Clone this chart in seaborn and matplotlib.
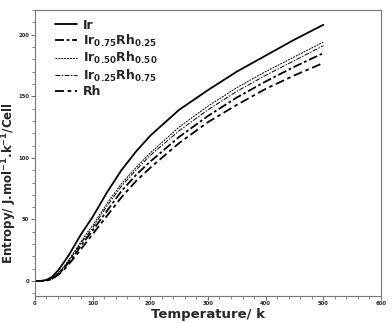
import matplotlib
matplotlib.use("Agg")
import matplotlib.pyplot as plt
import seaborn as sns
import pandas as pd
from matplotlib.ticker import MultipleLocator

temperature = [0, 10, 20, 30, 40, 50, 60, 70, 80, 90, 100, 125, 150, 175, 200, 250, 300, 350, 400, 450, 500]
s_ir = [0, 0.1, 0.9, 3.5, 8.5, 15, 22, 30, 38, 45, 52, 72, 90, 105, 118, 139, 155, 170, 183, 196, 208]
s_ir75 = [0, 0.1, 0.4, 2, 5.5, 10, 16, 22, 29, 35, 41, 57, 73, 86, 97, 117, 134, 149, 162, 174, 185]
s_ir50 = [0, 0.1, 0.6, 2.5, 6.5, 11.5, 18, 25, 32, 39, 45, 63, 79, 92, 104, 125, 142, 157, 170, 182, 194]
s_ir25 = [0, 0.1, 0.5, 2.2, 6, 11, 17, 24, 31, 37, 43, 61, 77, 90, 102, 122, 139, 154, 167, 179, 191]
s_rh = [0, 0.1, 0.3, 1.7, 5, 9, 14.5, 20, 26, 32, 38, 53, 68, 81, 92, 112, 129, 143, 156, 167, 177]

labels = ["Ir", r"Ir$_{\mathbf{0.75}}$Rh$_{\mathbf{0.25}}$", r"Ir$_{\mathbf{0.50}}$Rh$_{\mathbf{0.50}}$",
          r"Ir$_{\mathbf{0.25}}$Rh$_{\mathbf{0.75}}$", "Rh"]
series = [s_ir, s_ir75, s_ir50, s_ir25, s_rh]
styles = [
    dict(linestyle="-", linewidth=1.3),
    dict(linestyle=(0, (5, 1.5, 1.5, 1.5)), linewidth=1.3),
    dict(linestyle=(0, (2, 1)), linewidth=0.7),
    dict(linestyle=(0, (5, 1.5, 1.5, 1.5)), linewidth=0.7),
    dict(linestyle=(0, (5, 2, 2, 2)), linewidth=1.3),
]

sns.set_style("white")
plt.rcParams["font.family"] = ["DejaVu Sans"]
plt.rcParams["mathtext.default"] = "bf"

fig = plt.figure(figsize=(3.92, 3.23), dpi=100)
ax = fig.add_axes([0.089, 0.084, 0.883, 0.885])

for lab, vals, st in zip(labels, series, styles):
    df = pd.DataFrame({"T": temperature, "S": vals})
    sns.lineplot(data=df, x="T", y="S", ax=ax, color="black", label=lab, **st)

ax.set_xlim(0, 600)
ax.set_ylim(-12, 220)
ax.xaxis.set_major_locator(MultipleLocator(100))
ax.xaxis.set_minor_locator(MultipleLocator(20))
ax.yaxis.set_major_locator(MultipleLocator(50))
ax.yaxis.set_minor_locator(MultipleLocator(10))
ax.tick_params(which="both", direction="out", bottom=True, left=True, top=False, right=False,
               labelsize=3.8, color="#555555", pad=1)
ax.tick_params(which="major", length=3, width=0.6)
ax.tick_params(which="minor", length=2, width=0.5)
for t in ax.get_xticklabels() + ax.get_yticklabels():
    t.set_fontweight("bold")
for sp in ax.spines.values():
    sp.set_color("#777777")
    sp.set_linewidth(0.8)

ax.set_xlabel("Temperature/ k", fontsize=9.5, fontweight="bold", labelpad=1)
ax.set_ylabel(r"Entropy/ J.mol$^{-1}$.k$^{-1}$/Cell", fontsize=8.5, fontweight="bold")
ax.yaxis.set_label_coords(-0.045, 0.395)

leg = ax.legend(loc="upper left", frameon=False, prop={"weight": "bold", "size": 9},
                handlelength=1.75, handletextpad=0.5, labelspacing=0.1,
                borderpad=0, borderaxespad=0, bbox_to_anchor=(0.058, 0.97))

fig.savefig("out.png", dpi=100)
